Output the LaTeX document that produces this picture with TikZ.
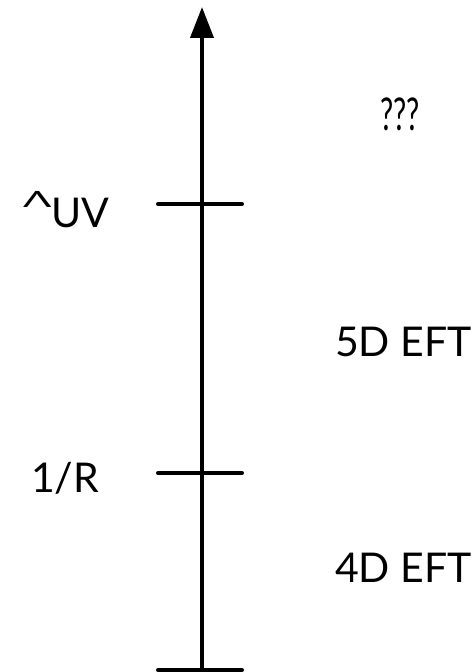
\documentclass[tikz,border=0pt]{standalone}
\usepackage{fontspec}
\setmainfont{Lato}
\usepackage{graphicx}
\usetikzlibrary{arrows.meta,positioning}

\begin{document}
\begin{tikzpicture}[
  x=1bp, y=-1bp,
  axisline/.style={line width=4bp},
  tickline/.style={line width=4bp, line cap=round},
  scalelabel/.style={anchor=base west, inner sep=0pt, font=\fontsize{41bp}{48bp}\selectfont},
  >={Triangle[length=31bp, width=23bp]}
]
\useasboundingbox (0,0) rectangle (474,672);

% Energy axis, bottom to top
\coordinate (bot) at (202,670);
\coordinate (top) at (202,7);
\draw[axisline, ->] (bot) -- (top);

% Scale ticks
\coordinate (uvL) at (158,204);  \coordinate (uvR) at (242,204);
\coordinate (rL)  at (158,473);  \coordinate (rR)  at (242,473);
\coordinate (bL)  at (158,670);  \coordinate (bR)  at (242,670);
\draw[tickline] (uvL) -- (uvR);
\draw[tickline] (rL) -- (rR);
\draw[tickline] (bL) -- (bR);

% Scale labels (left)
\node[scalelabel] (lamuv) at (23,227) {\raisebox{20bp}{\scalebox{1.5}[0.8]{\fontsize{28bp}{30bp}\selectfont Λ}}UV};
\node[scalelabel] (invr) at (31,492) {1/R};

% Regimes (right)
\node[scalelabel] (unknown) at (380,131) {\scalebox{0.72}[1.1]{???}};
\node[scalelabel] (fived) at (335,356) {5D EFT};
\node[scalelabel] (fourd) at (335,582) {4D EFT};
\end{tikzpicture}
\end{document}
